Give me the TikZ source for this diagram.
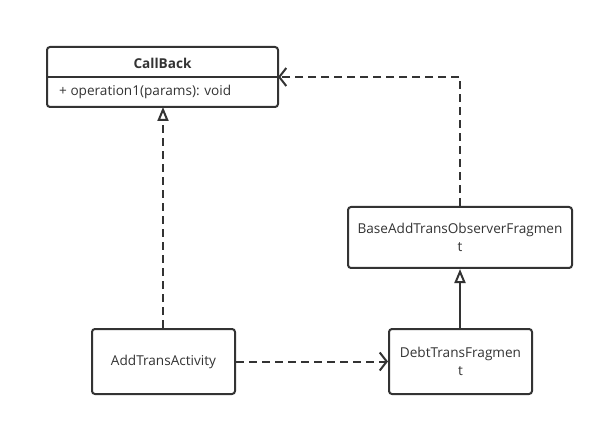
\documentclass[tikz,border=0pt]{standalone}
\usepackage{fontspec}
\setmainfont{Open Sans}
\usetikzlibrary{arrows.meta}
\definecolor{ink}{HTML}{333333}
\begin{document}
\begin{tikzpicture}[x=1pt,y=-1pt,
  box/.style={draw=ink,line width=2pt,rounded corners=3pt},
  lbl/.style={text=ink,font=\fontsize{13.6}{18}\selectfont,align=center,inner sep=0pt},
  conn/.style={draw=ink,line width=2pt},
  dashline/.style={dash pattern=on 8pt off 5pt},
  tri/.style={-{Triangle[open,length=14pt,width=11pt,line width=2pt,fill=white]}},
  vee/.style={-{Straight Barb[length=7pt,width=18pt,line width=2pt]}}]
\useasboundingbox (0,0) rectangle (604,427);
% CallBack
\draw[box] (47,47) rectangle (278,107);
\coordinate (cbB) at (163,107);
\coordinate (cbR) at (278,77);
\draw[conn] (47,77) -- (278,77);
\node[lbl,font=\fontsize{13.6}{18}\selectfont\bfseries] (cbt) at (162.5,63) {CallBack};
\node[lbl,anchor=west] (cbo) at (59,92) {+ operation1(params): void};
% Base
\node[box,minimum width=224pt,minimum height=61pt,inner sep=0pt] (base) at (460,237.5) {};
\node[lbl] at (base.center) {BaseAddTransObserverFragmen\\t};
% AddTrans
\node[box,minimum width=143pt,minimum height=65pt,inner sep=0pt] (add) at (163.5,361.5) {};
\node[lbl] at (add.center) {AddTransActivity};
% Debt
\node[box,minimum width=143pt,minimum height=65pt,inner sep=0pt] (debt) at (460.5,361.5) {};
\node[lbl] at (debt.center) {DebtTransFragmen\\t};
% connectors
\draw[conn,dashline,tri] (add.north -| cbB) -- (cbB);
\draw[conn,dashline,vee] (base.north) -- (base.north |- cbR) -- (cbR);
\draw[conn,tri] (debt.north -| base.north) -- (base.south);
\draw[conn,dashline,vee] (add.east) -- (debt.west);
\end{tikzpicture}
\end{document}
